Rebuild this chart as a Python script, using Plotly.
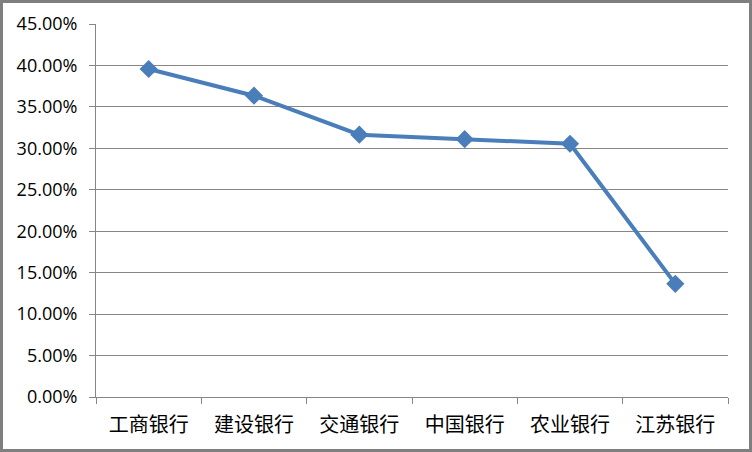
import plotly.graph_objects as go

banks = ["工商银行", "建设银行", "交通银行", "中国银行", "农业银行", "江苏银行"]
ratios = [39.57, 36.35, 31.65, 31.10, 30.55, 13.65]
y_ticks = [0, 5, 10, 15, 20, 25, 30, 35, 40, 45]
y_tick_labels = [f"{v:.2f}%" for v in y_ticks]

W, H = 752, 452
ml, mr, mt, mb = 96, 24, 24, 55
pw, ph = W - ml - mr, H - mt - mb

fig = go.Figure()
fig.add_trace(go.Scatter(
    x=banks, y=ratios, mode="lines+markers",
    line=dict(color="#4a7ebb", width=4),
    marker=dict(symbol="diamond", size=14, color="#4a7ebb"),
    showlegend=False, cliponaxis=False,
))

fig.update_layout(
    width=W, height=H,
    margin=dict(l=ml, r=mr, t=mt, b=mb, pad=0),
    paper_bgcolor="white", plot_bgcolor="white",
    xaxis=dict(
        type="category", range=[-0.5, 5.5],
        showgrid=False, showline=True, linecolor="#868686", linewidth=1,
        ticks="outside", ticklen=6, tickcolor="#868686", tickson="boundaries",
        tickfont=dict(family="Noto Sans CJK SC", size=20, color="#000000"),
        ticklabelstandoff=10,
    ),
    yaxis=dict(
        range=[0, 45], tickvals=y_ticks, ticktext=y_tick_labels,
        showgrid=True, gridcolor="#868686", gridwidth=1,
        showline=True, linecolor="#868686", linewidth=1,
        ticks="outside", ticklen=6, tickcolor="#868686",
        tickfont=dict(family="Open Sans", size=18, color="#000000"),
        ticklabelstandoff=8, zeroline=False,
    ),
    shapes=[dict(
        type="rect", xref="paper", yref="paper",
        x0=(-ml + 1.5) / pw, x1=1 + (mr - 1.5) / pw,
        y0=(-mb + 1.5) / ph, y1=1 + (mt - 1.5) / ph,
        line=dict(color="#7f7f7f", width=3), layer="below",
    )],
)

fig.write_html(
    "out.html",
    config={"displayModeBar": False},
    post_script="document.body.style.margin='0';document.body.style.overflow='hidden';",
)
